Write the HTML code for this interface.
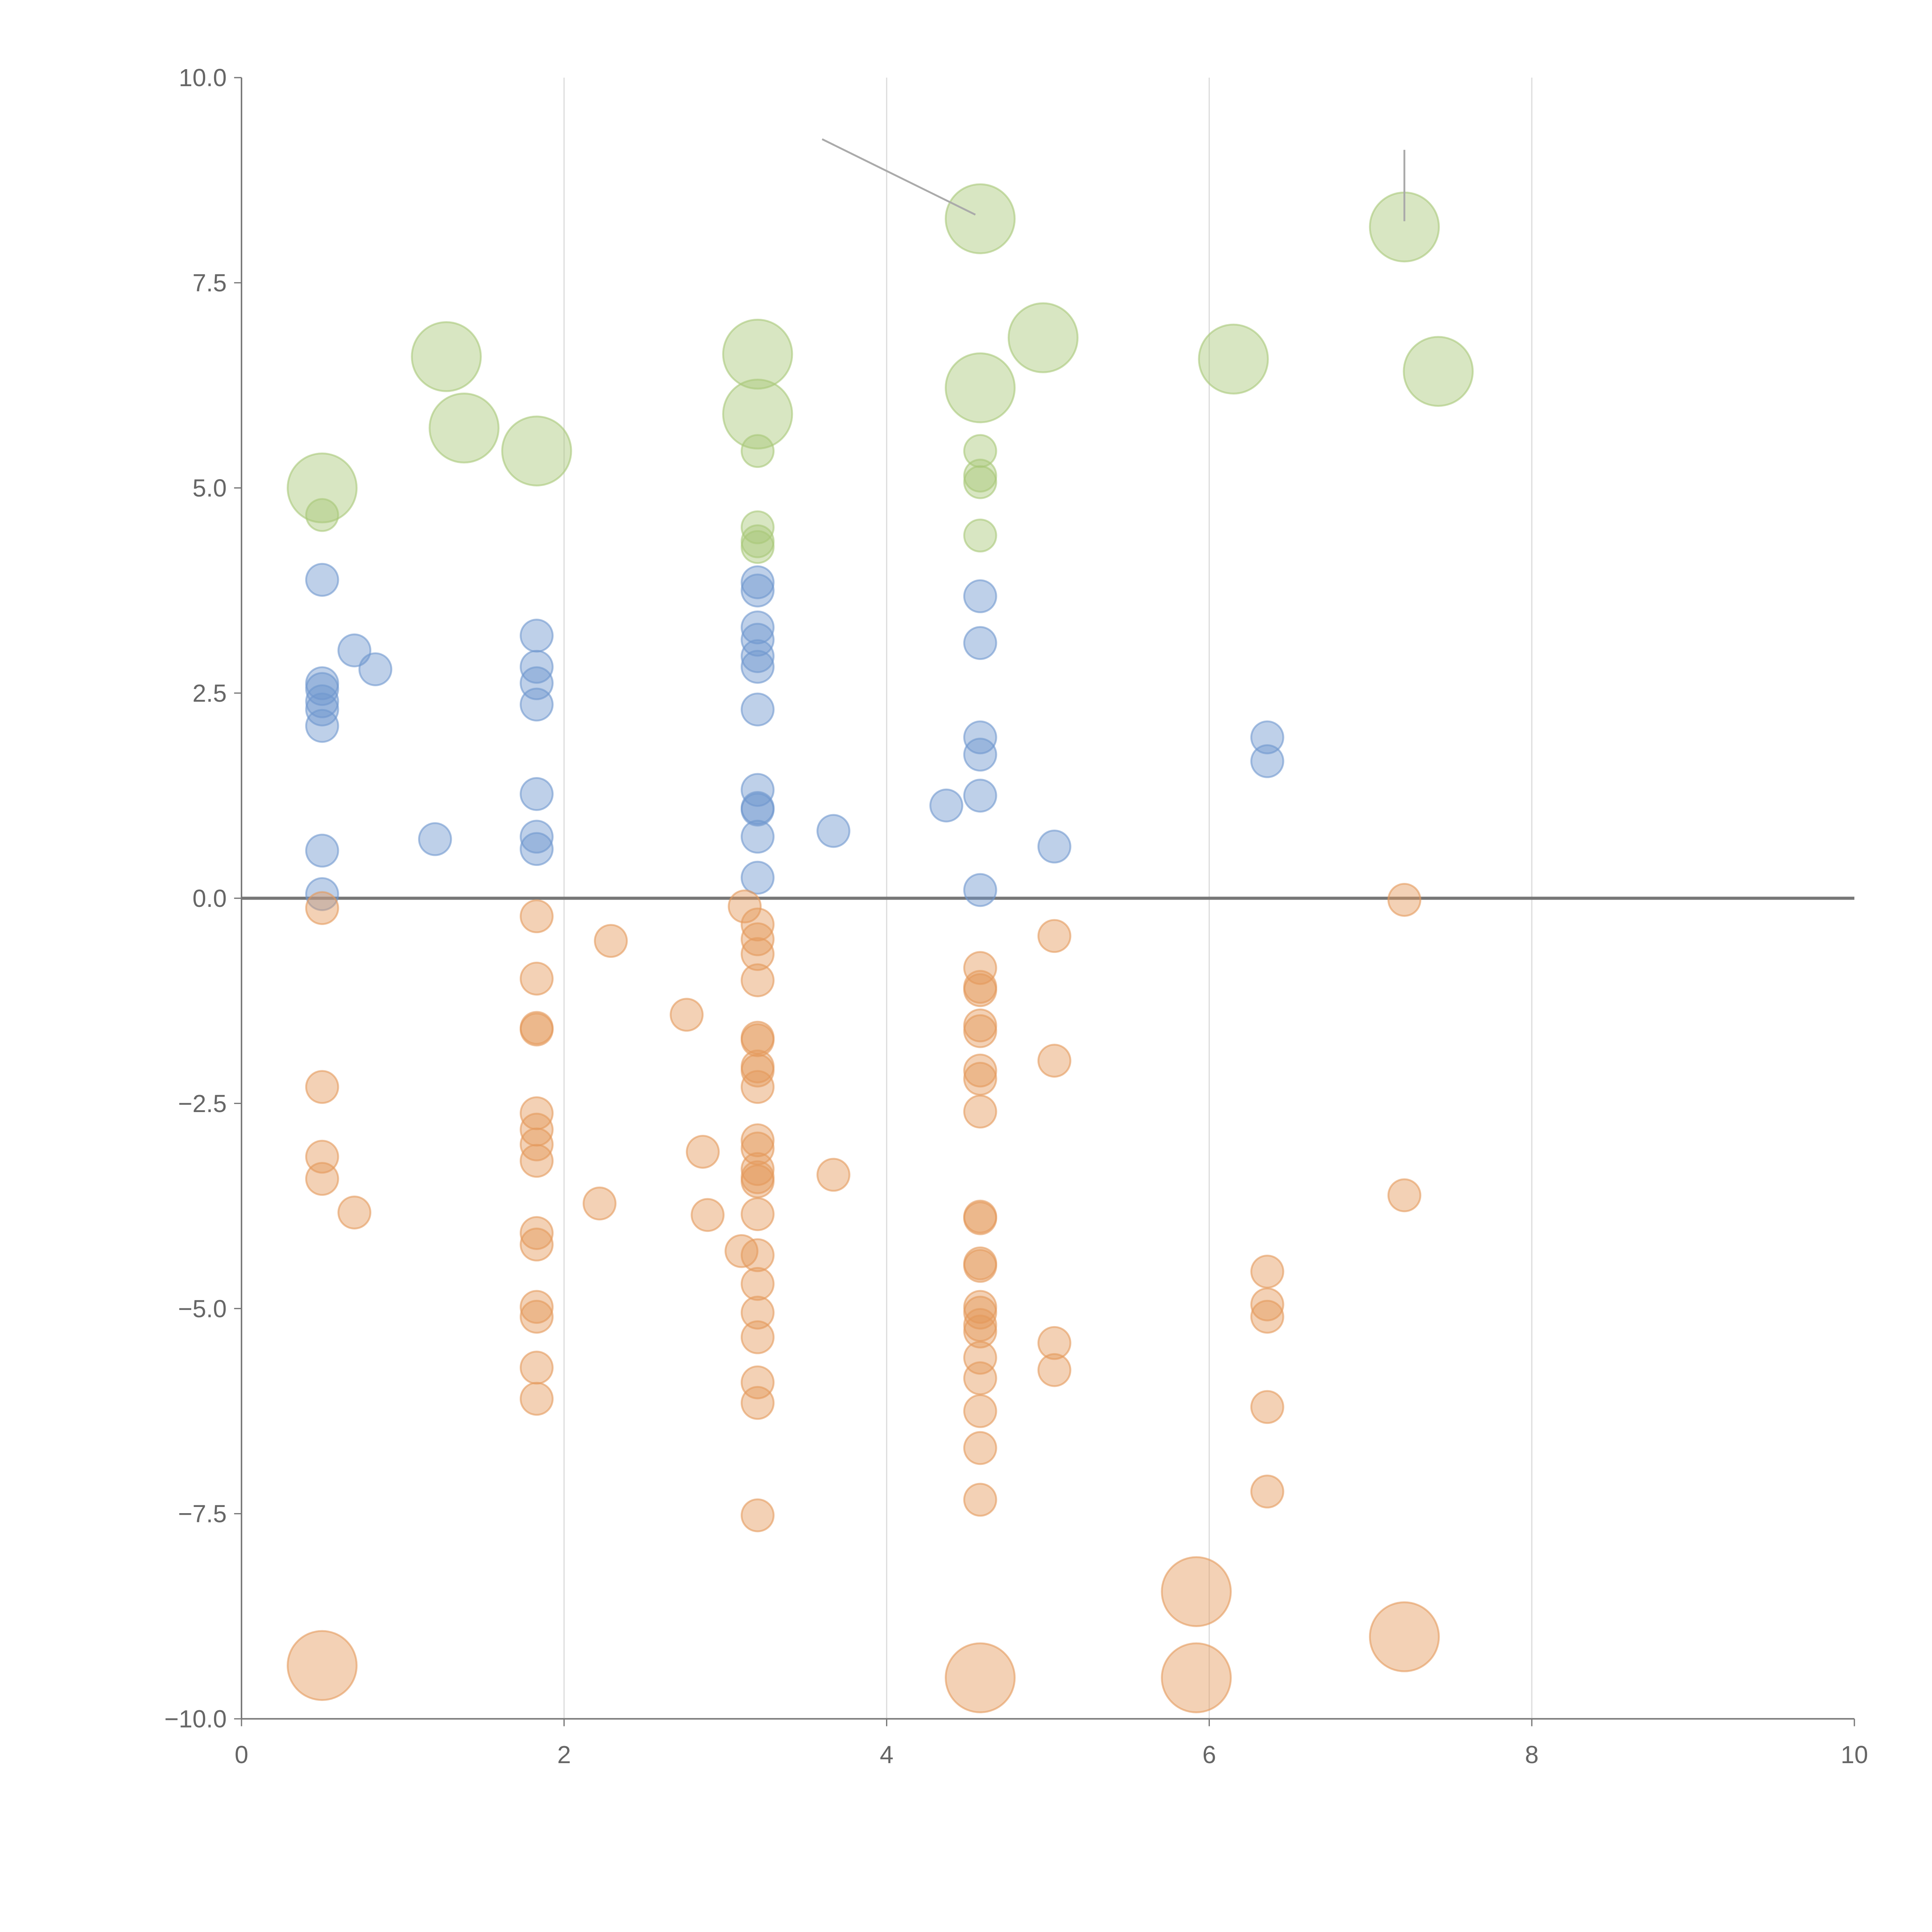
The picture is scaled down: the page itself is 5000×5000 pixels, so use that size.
<!DOCTYPE html>
<html><head><meta charset="utf-8"><style>
html,body{margin:0;padding:0;background:#fff;width:5000px;height:5000px;overflow:hidden}
svg{display:block}
text{font-family:"Liberation Sans",sans-serif;fill:#666;font-size:20px}
</style></head><body>
<svg id="chart" width="5000" height="5000" viewBox="0 0 1568 1568" xmlns="http://www.w3.org/2000/svg">
<g id="grid"></g>
<g id="axes"></g>
<g id="marks"></g>
</svg>
<script>
const xTicks=[0,2,4,6,8,10];
const yTicks=[10,7.5,5,2.5,0,-2.5,-5,-7.5,-10];
const blueX=[0.5,0.5,0.5,0.5,0.5,0.5,0.7,0.83,0.5,0.5,1.2,1.83,1.83,1.83,1.83,1.83,1.83,1.83,3.2,3.2,3.2,3.2,3.2,3.2,3.2,3.2,3.2,3.2,3.2,3.2,3.67,4.37,4.58,4.58,4.58,4.58,4.58,4.58,5.04,6.36,6.36];
const blueY=[3.88,2.62,2.55,2.4,2.3,2.1,3.02,2.79,0.58,0.05,0.72,3.2,2.82,2.62,2.36,1.27,0.75,0.6,3.85,3.75,3.3,3.15,2.95,2.82,2.3,1.32,1.1,1.08,0.75,0.25,0.82,1.13,3.68,3.11,1.96,1.75,1.25,0.1,0.63,1.96,1.67];
const orangeX=[0.5,0.5,0.5,0.5,0.7,1.83,1.83,1.83,1.83,1.83,1.83,1.83,1.83,1.83,1.83,1.83,1.83,1.83,1.83,2.29,2.22,2.76,2.86,2.89,3.12,3.2,3.2,3.2,3.2,3.2,3.2,3.2,3.2,3.2,3.2,3.2,3.2,3.2,3.2,3.2,3.1,3.2,3.2,3.2,3.2,3.2,3.2,3.2,3.67,4.58,4.58,4.58,4.58,4.58,4.58,4.58,4.58,4.58,4.58,4.58,4.58,4.58,4.58,4.58,4.58,4.58,4.58,4.58,4.58,4.58,5.04,5.04,5.04,5.04,6.36,6.36,6.36,6.36,6.36,7.21,7.21];
const orangeY=[-0.12,-2.3,-3.15,-3.42,-3.83,-0.22,-0.98,-1.58,-1.6,-2.62,-2.82,-3.0,-3.2,-4.08,-4.22,-4.98,-5.1,-5.72,-6.1,-0.52,-3.72,-1.42,-3.09,-3.86,-0.1,-0.32,-0.5,-0.68,-1.0,-1.7,-1.73,-2.05,-2.1,-2.3,-2.95,-3.05,-3.3,-3.4,-3.45,-3.85,-4.3,-4.35,-4.7,-5.05,-5.35,-5.9,-6.15,-7.52,-3.37,-0.85,-1.08,-1.12,-1.55,-1.62,-2.1,-2.2,-2.6,-3.88,-3.9,-4.45,-4.48,-4.98,-5.05,-5.2,-5.28,-5.6,-5.85,-6.25,-6.7,-7.33,-0.46,-1.98,-5.42,-5.75,-4.55,-4.95,-5.1,-6.2,-7.23,-0.02,-3.62];
const orangeBigX=[0.5,4.58,5.92,5.92,7.21];
const orangeBigY=[-9.35,-9.5,-8.45,-9.5,-9.0];
const greenX=[0.5,3.2,3.2,3.2,3.2,4.58,4.58,4.58,4.58];
const greenY=[4.67,5.45,4.52,4.35,4.28,5.45,5.15,5.07,4.42];
const greenBigX=[0.5,1.27,1.38,1.83,3.2,3.2,4.58,4.58,4.97,6.15,7.21,7.42];
const greenBigY=[5.0,6.6,5.73,5.45,6.63,5.9,8.28,6.22,6.83,6.57,8.18,6.42];

const NS="http://www.w3.org/2000/svg";
const sx=v=>196+(v-0)*(1505-196)/10;
const sy=v=>63+(10-v)*(1395-63)/20;
function mk(tag,attrs,parent){const e=document.createElementNS(NS,tag);for(const k in attrs)e.setAttribute(k,attrs[k]);parent.appendChild(e);return e;}
const grid=document.getElementById('grid'),axes=document.getElementById('axes'),marks=document.getElementById('marks');
xTicks.forEach(t=>{
  if(t>0&&t<10){const g=mk('line',{x1:sx(t),x2:sx(t),y1:sy(10),y2:sy(-10),stroke:'#ddd','stroke-width':1},grid);
  
  }
  mk('line',{x1:sx(t),x2:sx(t),y1:sy(-10),y2:sy(-10)+6,stroke:'#777','stroke-width':1},axes);
  const tx=mk('text',{x:sx(t),y:sy(-10)+36,'text-anchor':'middle'},axes);tx.textContent=t;
  
  
});
yTicks.forEach(t=>{
  mk('line',{x1:sx(0)-6,x2:sx(0),y1:sy(t),y2:sy(t),stroke:'#777','stroke-width':1},axes);
  const tx=mk('text',{x:sx(0)-12,y:sy(t)+7,'text-anchor':'end'},axes);tx.textContent=t.toFixed(1).replace('-','\u2212');
  
  
});
const ya=mk('line',{x1:sx(0),x2:sx(0),y1:sy(10),y2:sy(-10),stroke:'#777','stroke-width':1.2},axes);


const xa=mk('line',{x1:sx(0),x2:sx(10),y1:sy(-10),y2:sy(-10),stroke:'#777','stroke-width':1.2},axes);


const zl=mk('line',{x1:sx(0),x2:sx(10),y1:sy(0),y2:sy(0),stroke:'#777','stroke-width':2.5},axes);


function draw(xs,ys,r,fill,stroke,name){
  xs.forEach((x,i)=>{const c=mk('circle',{cx:sx(x),cy:sy(ys[i]),r:r,fill:fill,'fill-opacity':0.45,stroke:stroke,'stroke-opacity':0.6,'stroke-width':1.5},marks);
  
  });
}
draw(blueX,blueY,13,'#6f97cf','#6f97cf','bubble-blue');
draw(orangeX,orangeY,13,'#e59a5c','#e59a5c','bubble-orange');
draw(greenX,greenY,13,'#a8c878','#a8c878','bubble-green');
draw(orangeBigX,orangeBigY,28,'#e59a5c','#e59a5c','bubble-orange-large');
draw(greenBigX,greenBigY,28,'#a8c878','#a8c878','bubble-green-large');
const l1=mk('line',{x1:sx(3.6),y1:sy(9.25),x2:sx(4.55),y2:sy(8.33),stroke:'#aaa','stroke-width':1.5},marks);


const l2=mk('line',{x1:sx(7.21),y1:sy(9.12),x2:sx(7.21),y2:sy(8.25),stroke:'#aaa','stroke-width':1.5},marks);


</script>
</body></html>
